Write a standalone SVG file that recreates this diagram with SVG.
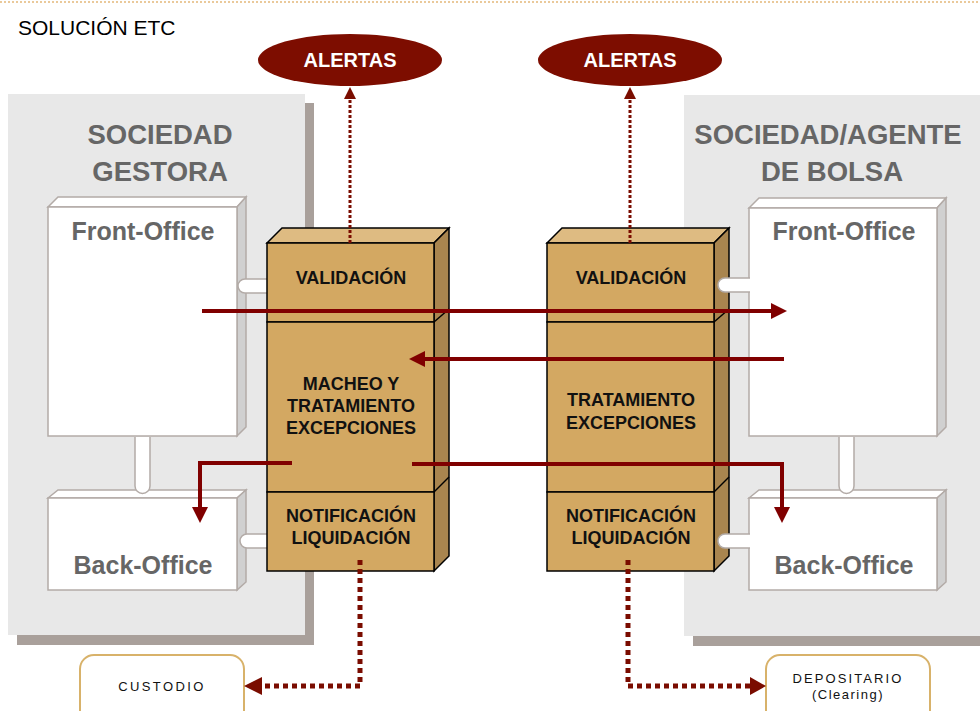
<svg xmlns="http://www.w3.org/2000/svg" width="980" height="711" viewBox="0 0 980 711">
<defs>
<style>
.panel{fill:#e8e8e8}
.shadow{fill:#a9a09b}
.ptitle{font-family:"Liberation Sans",Arial,sans-serif;font-weight:bold;font-size:27.5px;fill:#666;text-anchor:middle}
.boxfront{fill:#fff;stroke:#b3aba7;stroke-width:1.5}
.boxtop{fill:#fff;stroke:#b3aba7;stroke-width:1.5}
.boxside{fill:#d0d0d0;stroke:#b3aba7;stroke-width:1.5}
.boxlbl{font-family:"Liberation Sans",Arial,sans-serif;font-weight:bold;font-size:25px;fill:#666;text-anchor:middle}
.tube{fill:#fff;stroke:#b3aba7;stroke-width:1.5}
.bfront{fill:#d3a862;stroke:#000;stroke-width:1.5}
.btop{fill:#debb82;stroke:#000;stroke-width:1.5}
.bside{fill:#a9854f;stroke:#000;stroke-width:1.5}
.blbl{font-family:"Liberation Sans",Arial,sans-serif;font-weight:bold;font-size:18px;fill:#111;text-anchor:middle}
.red{fill:none;stroke:#800000;stroke-width:4}
.dotS{fill:none;stroke:#7a0c00;stroke-width:3;stroke-dasharray:3 2}
.dotB{fill:none;stroke:#7a0c00;stroke-width:5;stroke-dasharray:5 4}
.head{fill:#7a0c00}
.alert{fill:#7d0d00}
.alertlbl{font-family:"Liberation Sans",Arial,sans-serif;font-weight:bold;font-size:20px;fill:#fff;text-anchor:middle}
.ext{fill:#fff;stroke:#d8b26a;stroke-width:2}
.extlbl{font-family:"Liberation Sans",Arial,sans-serif;font-size:13px;fill:#111;text-anchor:middle}
</style>
<marker id="ah" markerUnits="userSpaceOnUse" markerWidth="16" markerHeight="16" refX="0" refY="8" orient="auto">
<path d="M0,0 L16,8 L0,16 z" fill="#800000"/>
</marker>
</defs>

<rect width="980" height="711" fill="#fff"/>
<line x1="0" y1="2" x2="980" y2="2" stroke="#e3b87a" stroke-width="1.5" stroke-dasharray="2 2"/>
<text x="18" y="35" font-family="Liberation Sans, Arial, sans-serif" font-size="21" fill="#000">SOLUCIÓN ETC</text>

<g id="sociedad-gestora">
<rect class="shadow" x="17" y="103" width="297" height="542"/>
<rect class="panel" x="8" y="94" width="297" height="541"/>
<text class="ptitle" x="160" y="144">SOCIEDAD</text>
<text class="ptitle" x="160" y="181">GESTORA</text>
</g>

<g id="sociedad-agente">
<rect class="shadow" x="693" y="104" width="297" height="542"/>
<rect class="panel" x="684" y="95" width="300" height="541"/>
<text class="ptitle" x="828" y="144">SOCIEDAD/AGENTE</text>
<text class="ptitle" x="832" y="181">DE BOLSA</text>
</g>

<g id="front-office-left">
<polygon class="boxtop" points="48,207 58,197 246,197 237,207"/>
<polygon class="boxside" points="237,207 246,197 246,427 237,436"/>
<rect class="boxfront" x="48" y="207" width="189" height="229"/>
<text class="boxlbl" x="143" y="240">Front-Office</text>
</g>

<g id="back-office-left">
<polygon class="boxtop" points="48,498 58,490 246,490 237,498"/>
<polygon class="boxside" points="237,498 246,490 246,582 237,590"/>
<rect class="boxfront" x="48" y="498" width="189" height="92"/>
<text class="boxlbl" x="143" y="574">Back-Office</text>
</g>

<g id="front-office-right">
<polygon class="boxtop" points="749,208 759,198 946,198 937,208"/>
<polygon class="boxside" points="937,208 946,198 946,427 937,436"/>
<rect class="boxfront" x="749" y="208" width="188" height="228"/>
<text class="boxlbl" x="844" y="240">Front-Office</text>
</g>

<g id="back-office-right">
<polygon class="boxtop" points="749,498 759,490 946,490 937,498"/>
<polygon class="boxside" points="937,498 946,490 946,582 937,590"/>
<rect class="boxfront" x="749" y="498" width="188" height="92"/>
<text class="boxlbl" x="844" y="574">Back-Office</text>
</g>

<g id="tubes">
<path class="tube" d="M135,437 V486 A7.5,7.5 0 0 0 150,486 V437"/>
<path class="tube" d="M839,437 V486 A7.5,7.5 0 0 0 854,486 V437"/>
<path class="tube" d="M275,279 H245 A7,7 0 0 0 245,293 H275"/>
<path class="tube" d="M275,534 H247 A7,7 0 0 0 247,548 H275"/>
</g>

<g id="bloque-gestora">
<polygon class="btop" points="267,243 282,228 449,228 434,243"/>
<polygon class="bside" points="434,243 449,228 449,556 434,571"/>
<line x1="434" y1="322" x2="449" y2="309" stroke="#000" stroke-width="1.5"/>
<line x1="434" y1="492" x2="449" y2="477" stroke="#000" stroke-width="1.5"/>
<rect class="bfront" x="267" y="243" width="167" height="79"/>
<rect class="bfront" x="267" y="322" width="167" height="170"/>
<rect class="bfront" x="267" y="492" width="167" height="79"/>
<text class="blbl" x="351" y="284">VALIDACIÓN</text>
<text class="blbl" x="351" y="390">MACHEO Y</text>
<text class="blbl" x="351" y="412">TRATAMIENTO</text>
<text class="blbl" x="351" y="434">EXCEPCIONES</text>
<text class="blbl" x="351" y="522">NOTIFICACIÓN</text>
<text class="blbl" x="351" y="544">LIQUIDACIÓN</text>
</g>

<g id="bloque-agente">
<polygon class="btop" points="547,243 562,228 729,228 714,243"/>
<polygon class="bside" points="714,243 729,228 729,556 714,571"/>
<line x1="714" y1="322" x2="729" y2="309" stroke="#000" stroke-width="1.5"/>
<line x1="714" y1="492" x2="729" y2="477" stroke="#000" stroke-width="1.5"/>
<rect class="bfront" x="547" y="243" width="167" height="79"/>
<rect class="bfront" x="547" y="322" width="167" height="170"/>
<rect class="bfront" x="547" y="492" width="167" height="79"/>
<text class="blbl" x="631" y="284">VALIDACIÓN</text>
<text class="blbl" x="631" y="406">TRATAMIENTO</text>
<text class="blbl" x="631" y="429">EXCEPCIONES</text>
<text class="blbl" x="631" y="522">NOTIFICACIÓN</text>
<text class="blbl" x="631" y="544">LIQUIDACIÓN</text>
</g>

<g id="tubes-right">
<path class="tube" d="M750,278 H725 A7,7 0 0 0 725,292 H750"/>
<path class="tube" d="M750,534 H725 A7,7 0 0 0 725,548 H750"/>
</g>

<g id="alertas-left">
<ellipse class="alert" cx="350" cy="60" rx="92" ry="26"/>
<text class="alertlbl" x="350" y="67">ALERTAS</text>
</g>
<g id="alertas-right">
<ellipse class="alert" cx="630" cy="60" rx="92" ry="26"/>
<text class="alertlbl" x="630" y="67">ALERTAS</text>
</g>

<g id="custodio">
<rect class="ext" x="80" y="655" width="164" height="70" rx="14"/>
<text class="extlbl" x="162" y="691" letter-spacing="2.4">CUSTODIO</text>
</g>
<g id="depositario">
<rect class="ext" x="766" y="655" width="164" height="70" rx="14"/>
<text class="extlbl" x="848" y="683" letter-spacing="2.1">DEPOSITARIO</text>
<text class="extlbl" x="848" y="699" letter-spacing="1.5">(Clearing)</text>
</g>

<g id="connectors">
<line class="red" x1="202" y1="311" x2="771" y2="311" marker-end="url(#ah)"/>
<line class="red" x1="784" y1="359" x2="425" y2="359" marker-end="url(#ah)"/>
<path class="red" d="M292,463 H200 V507" marker-end="url(#ah)"/>
<path class="red" d="M412,464 H782 V507" marker-end="url(#ah)"/>

<line class="dotS" x1="350" y1="243" x2="350" y2="98"/>
<polygon class="head" points="350,87 344,99 356,99"/>
<line class="dotS" x1="630" y1="243" x2="630" y2="98"/>
<polygon class="head" points="630,87 624,99 636,99"/>

<path class="dotB" d="M360,560 V686 H262"/>
<polygon class="head" points="244,686 262,677 262,695"/>
<path class="dotB" d="M628,560 V686 H750"/>
<polygon class="head" points="766,686 750,677 750,695"/>
</g>
</svg>
